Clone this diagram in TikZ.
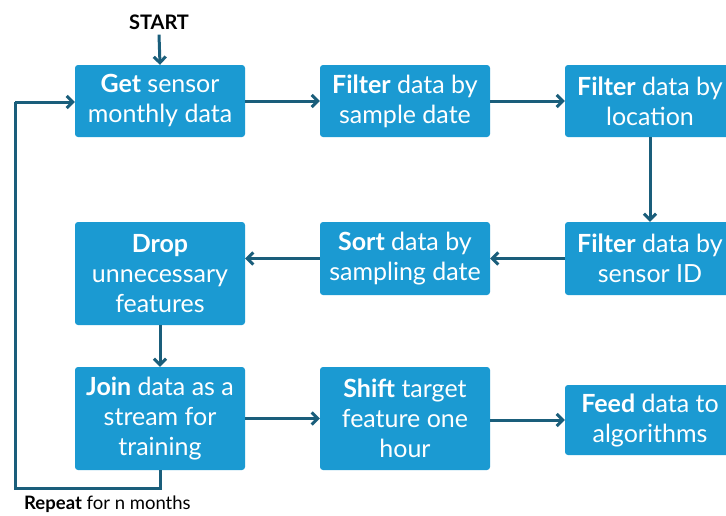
\documentclass[tikz,border=0pt]{standalone}
\usepackage{fontspec}
\setmainfont{Lato}
\usetikzlibrary{arrows.meta}
\definecolor{boxblue}{HTML}{1B9AD2}
\definecolor{linecol}{HTML}{1A5E7B}
\tikzset{
  stepbox/.style={fill=boxblue, rounded corners=3pt, text=white, align=center,
    font=\fontsize{25}{30}\selectfont, inner sep=0pt},
  conn/.style={draw=linecol, line width=3pt, -{Straight Barb[length=6pt,width=12pt,line width=3pt]}},
  line/.style={draw=linecol, line width=3pt}
}
\begin{document}
\begin{tikzpicture}[x=1pt,y=-1pt]
\useasboundingbox (0,0) rectangle (726,515);
\clip (0,0) rectangle (726,515);
% boxes
\node[stepbox, minimum width=170pt, minimum height=72pt] (get) at (160,101) {\textbf{Get} sensor\\monthly data};
\node[stepbox, minimum width=170pt, minimum height=72pt] (fsd) at (405,101) {\textbf{Filter} data by\\sample date};
\node[stepbox, minimum width=170pt, minimum height=72pt] (floc) at (650,101) {\textbf{Filter} data by\\location};
\node[stepbox, minimum width=170pt, minimum height=73pt] (fid) at (650,258.5) {\textbf{Filter} data by\\sensor ID};
\node[stepbox, minimum width=170pt, minimum height=73pt] (sort) at (405,258.5) {\textbf{Sort} data by\\sampling date};
\node[stepbox, minimum width=170pt, minimum height=103pt] (drop) at (160,273.5) {\textbf{Drop}\\unnecessary\\features};
\node[stepbox, minimum width=170pt, minimum height=103pt] (join) at (160,418.5) {\textbf{Join} data as a\\stream for\\training};
\node[stepbox, minimum width=170pt, minimum height=103pt] (shift) at (405,418.5) {\textbf{Shift} target\\feature one\\hour};
\node[stepbox, minimum width=170pt, minimum height=70pt] (feed) at (650,420) {\textbf{Feed} data to\\algorithms};
% labels
\node[font=\fontsize{20}{24}\selectfont\bfseries, inner sep=0pt] (start) at (159,22) {START};
\node[font=\fontsize{18.5}{22}\selectfont, inner sep=0pt, anchor=west] (rep) at (24,504) {\textbf{Repeat} for n months};
\coordinate (lb) at (160,488);
\coordinate (ll) at (15,488);
\coordinate (lt) at (15,102);
% connectors
\draw[conn] (start.south) ++(0,5) -- (get.north);
\draw[conn] (get.east) -- (fsd.west);
\draw[conn] (fsd.east) -- (floc.west);
\draw[conn] (floc.south) -- (fid.north);
\draw[conn] (fid.west) -- (sort.west -| sort.east);
\draw[conn] (sort.west) -- (sort.west -| drop.east);
\draw[conn] (drop.south) -- (join.north);
\draw[conn] (join.east) -- (shift.west);
\draw[conn] (shift.east |- feed.west) -- (feed.west);
\draw[line] (join.south) -- (lb) -- (ll) -- (lt);
\draw[conn] (lt) -- (lt -| get.west);
\end{tikzpicture}
\end{document}
